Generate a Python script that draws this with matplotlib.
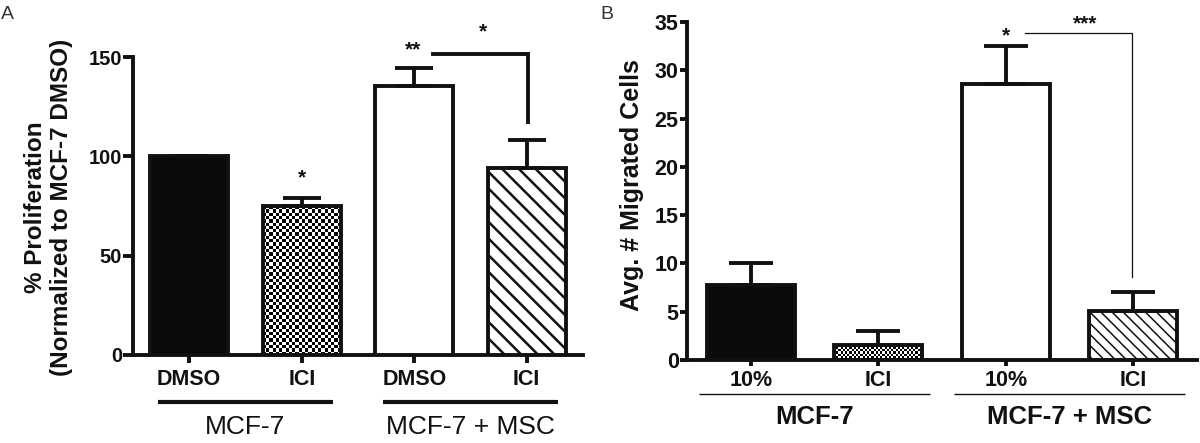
"""Two-panel bar chart: MCF-7 proliferation (A) and migration (B)."""

import matplotlib

matplotlib.use("Agg")
import matplotlib.pyplot as plt
import numpy as np
from matplotlib.transforms import blended_transform_factory

plt.rcParams["font.family"] = ["Liberation Sans", "DejaVu Sans"]

INK = "#111111"

# Panel A: % proliferation
prolif_labels = ["DMSO", "ICI", "DMSO", "ICI"]
prolif_mean = [100, 75, 135.5, 94]
prolif_err = [0, 4, 9, 14]
prolif_ticks = [0, 50, 100, 150]
prolif_stars = [("*", 1.0, 89), ("**", 1.99, 153.5), ("*", 2.61, 162.5)]
prolif_bracket = (2.17, 3.01, 151.4, 117.3)

# Panel B: average number of migrated cells
migr_labels = ["10%", "ICI", "10%", "ICI"]
migr_mean = [7.8, 1.55, 28.6, 5.05]
migr_err = [2.2, 1.45, 3.9, 2.0]
migr_ticks = [0, 5, 10, 15, 20, 25, 30, 35]
migr_stars = [("*", 2.0, 33.6), ("***", 2.62, 34.8)]
migr_bracket = (2.15, 2.99, 33.9, 8.6)

group_names = ["MCF-7", "MCF-7 + MSC"]
group_centers = [0.5, 2.5]


def checker_fill(ax, bar, cell_px):
    """Fill a bar with a black/white checkerboard clipped to the bar."""
    x0, y0 = bar.get_x(), bar.get_y()
    x1, y1 = x0 + bar.get_width(), y0 + bar.get_height()
    (px0, py0), (px1, py1) = ax.transData.transform([(x0, y0), (x1, y1)])
    nx = max(1, round(abs(px1 - px0) / cell_px))
    ny = max(1, round(abs(py1 - py0) / cell_px))
    board = np.indices((ny, nx)).sum(axis=0) % 2
    im = ax.imshow(
        board,
        cmap="gray",
        vmin=0,
        vmax=1,
        extent=(x0, x1, y0, y1),
        aspect="auto",
        interpolation="nearest",
        zorder=2,
    )
    im.set_clip_path(bar)


def draw_panel(ax, labels, mean, err, ticks, cfg):
    x = np.arange(len(mean))
    ax.set_xlim(-0.5, 3.5)
    ax.set_ylim(ticks[0], ticks[-1])

    faces = ["#0a0a0a", "none", "white", "white"]
    bars = ax.bar(
        x,
        mean,
        width=0.69,
        color=faces,
        edgecolor=INK,
        linewidth=2.8,
        zorder=3,
    )
    bars[3].set_hatch(cfg["hatch"])
    if hasattr(bars[3], "set_hatch_linewidth"):
        bars[3].set_hatch_linewidth(cfg["hatch_lw"])
    checker_fill(ax, bars[1], cfg["cell"])
    ax.set_xlim(-0.5, 3.5)
    ax.set_ylim(ticks[0], ticks[-1])

    ax.errorbar(
        x,
        mean,
        yerr=[np.zeros(len(err)), err],
        fmt="none",
        ecolor=INK,
        elinewidth=2.8,
        capsize=cfg["capsize"],
        capthick=2.8,
        zorder=4,
    )

    for side in ("top", "right"):
        ax.spines[side].set_visible(False)
    for side in ("left", "bottom"):
        ax.spines[side].set_linewidth(2.8)
        ax.spines[side].set_color(INK)

    ax.set_yticks(ticks)
    ax.set_yticklabels([str(t) for t in ticks], fontweight="bold",
                       fontsize=cfg["ytick_fs"], color=INK)
    ax.tick_params(axis="y", length=cfg["ytick_len"], width=2.8, pad=1,
                   color=INK)
    ax.set_xticks(x)
    ax.set_xticklabels(labels, fontweight="bold", fontsize=15.5, color=INK)
    ax.tick_params(axis="x", length=cfg["xtick_len"], width=2.8,
                   pad=cfg["xtick_pad"], color=INK)

    trans = blended_transform_factory(ax.transData, ax.transAxes)
    for name, cx in zip(group_names, group_centers):
        ax.plot(
            [cx - cfg["group_half"], cx + cfg["group_half"]],
            [cfg["group_line_y"]] * 2,
            color=INK,
            linewidth=cfg["group_lw"],
            transform=trans,
            clip_on=False,
            solid_capstyle="butt",
        )
        ax.text(
            cx,
            cfg["group_text_y"],
            name,
            transform=trans,
            ha="center",
            va="center",
            fontsize=cfg["group_fs"],
            fontweight=cfg["group_weight"],
            color=INK,
        )

    bx0, bx1, btop, bbot = cfg["bracket"]
    ax.plot(
        [bx0, bx1, bx1],
        [btop, btop, bbot],
        color=INK,
        linewidth=cfg["bracket_lw"],
        clip_on=False,
        solid_joinstyle="miter",
    )
    for text, sx, sy in cfg["stars"]:
        ax.text(sx, sy, text, ha="center", va="center", fontsize=15,
                fontweight="bold", color=INK, clip_on=False)


fig = plt.figure(figsize=(12, 4.43), dpi=100)

ax_a = fig.add_axes([133 / 1200, 88 / 443, 450 / 1200, 298 / 443])
draw_panel(
    ax_a,
    prolif_labels,
    prolif_mean,
    prolif_err,
    prolif_ticks,
    {
        "hatch": "\\\\",
        "hatch_lw": 1.8,
        "cell": 3.3,
        "capsize": 13.5,
        "ytick_fs": 14.5,
        "ytick_len": 7,
        "xtick_len": 6,
        "xtick_pad": 4,
        "group_half": 0.78,
        "group_line_y": -0.158,
        "group_lw": 3.0,
        "group_text_y": -0.242,
        "group_fs": 19,
        "group_weight": "normal",
        "bracket": prolif_bracket,
        "bracket_lw": 2.8,
        "stars": prolif_stars,
    },
)
fig.text(48.5 / 1200, 1 - 207.5 / 443,
         "% Proliferation\n(Normalized to MCF-7 DMSO)",
         rotation=90, ha="center", va="center", fontsize=17.5,
         fontweight="bold", color=INK, linespacing=1.2)

ax_b = fig.add_axes([687 / 1200, 83 / 443, 510 / 1200, 338 / 443])
draw_panel(
    ax_b,
    migr_labels,
    migr_mean,
    migr_err,
    migr_ticks,
    {
        "hatch": "\\\\\\",
        "hatch_lw": 1.1,
        "cell": 2.2,
        "capsize": 16,
        "ytick_fs": 15.5,
        "ytick_len": 5,
        "xtick_len": 4.5,
        "xtick_pad": 3,
        "group_half": 0.905,
        "group_line_y": -0.1006,
        "group_lw": 1.0,
        "group_text_y": -0.1686,
        "group_fs": 18.5,
        "group_weight": "bold",
        "bracket": migr_bracket,
        "bracket_lw": 0.9,
        "stars": migr_stars,
    },
)
fig.text(632 / 1200, 1 - 185.5 / 443, "Avg. # Migrated Cells",
         rotation=90, ha="center", va="center", fontsize=18,
         fontweight="bold", color=INK)

fig.text(0.001, 1 - 6 / 443, "A", ha="left", va="top", fontsize=14,
         color="#333333")
fig.text(600 / 1200, 1 - 6 / 443, "B", ha="left", va="top", fontsize=14,
         color="#333333")

fig.savefig("out.png", dpi=100, facecolor="white")
